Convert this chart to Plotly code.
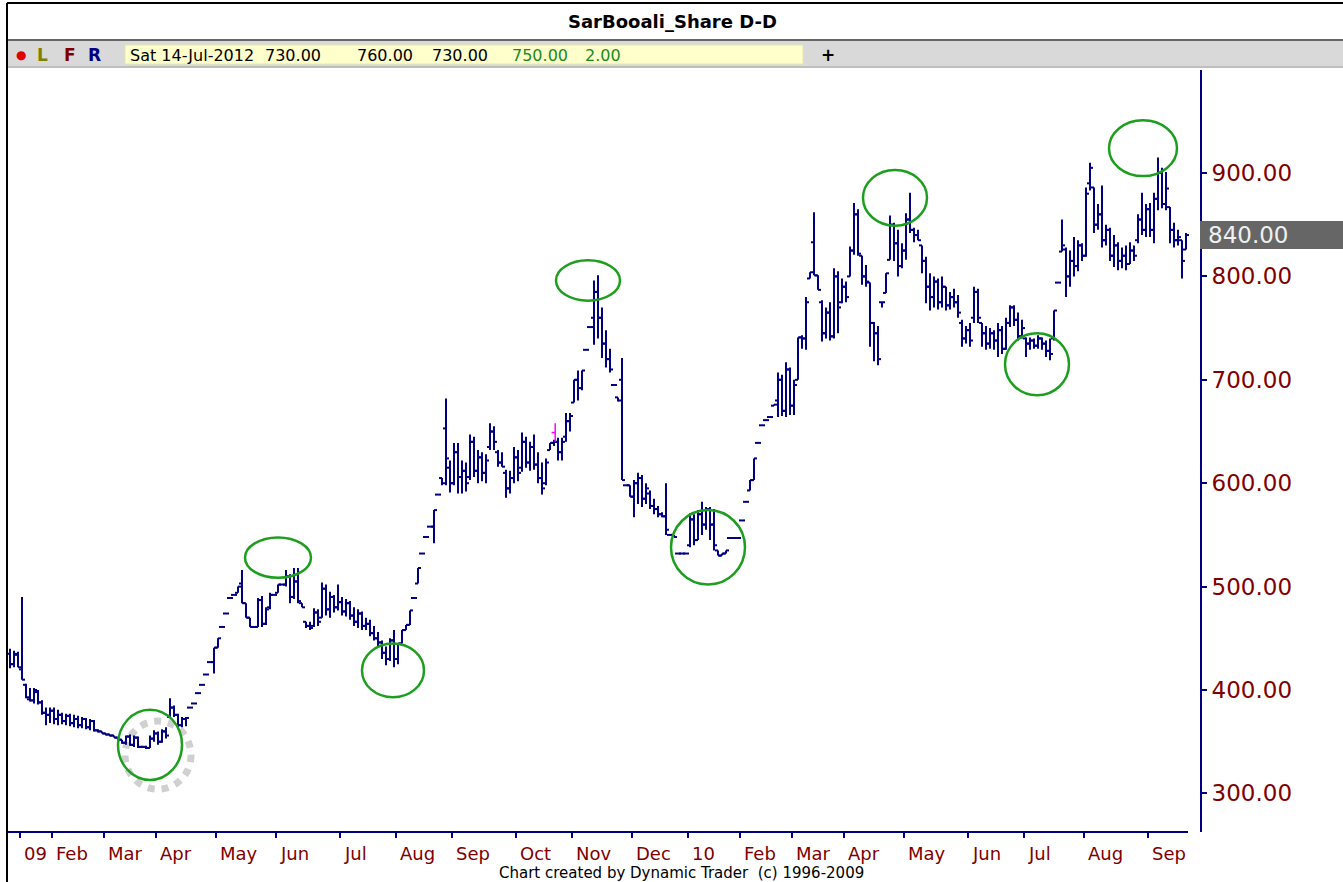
import plotly.graph_objects as go

# ---------------- data (daily bars) ----------------
open_ = [
    435, 425, 434, 420, 405, 391, 390, 398, 388, 378,
    376, 380, 372, 376, 370, 375, 368, 372, 366, 372,
    364, 370, 361, 360, 358, 357, 356, 354, 352, 349,
    355, 347, 354, 345, 345, 344, 353, 358, 350, 360,
    374, 383, 376, 366, 372, 383, 387, 397, 405, 415,
    427, 427, 441, 461, 474, 489, 492, 494, 503, 484,
    470, 461, 461, 487, 464, 480, 492, 494, 502, 502,
    510, 490, 505, 484, 466, 462, 462, 475, 470, 498,
    478, 490, 480, 485, 476, 484, 472, 466, 474, 462,
    464, 455, 450, 446, 436, 430, 448, 430, 445, 458,
    463, 489, 503, 532, 548, 558, 558, 589, 605, 653,
    615, 600, 630, 606, 612, 606, 640, 612, 625, 610,
    635, 650, 630, 620, 610, 595, 605, 625, 615, 640,
    620, 635, 618, 605, 600, 632, 639, 640, 630, 645,
    660, 678, 700, 692, 729, 751, 760, 785, 760, 735,
    720, 695, 683, 700, 598, 598, 587, 600, 605, 585,
    590, 578, 575, 570, 568, 550, 550, 532, 532, 532,
    540, 565, 545, 570, 560, 575, 560, 535, 530, 532,
    547, 547, 547, 564, 582, 593, 603, 639, 656, 661,
    664, 675, 680, 700, 670, 710, 675, 700, 741, 740,
    798, 833, 801, 775, 745, 765, 742, 800, 775, 790,
    800, 825, 860, 820, 800, 794, 755, 745, 775, 784,
    816, 850, 832, 810, 825, 855, 845, 840, 830, 815,
    790, 780, 795, 775, 790, 772, 780, 775, 755, 740,
    748, 760, 785, 755, 745, 735, 745, 738, 748, 730,
    755, 770, 758, 742, 740, 735, 738, 733, 740, 735,
    728, 740, 794, 824, 826, 800, 815, 810, 830, 820,
    890, 886, 850, 860, 835, 845, 820, 830, 815, 820,
    812, 825, 835, 855, 845, 865, 845, 875, 900, 870,
    867, 845, 835, 835, 826,
]
high = [
    440, 438, 437, 490, 406, 402, 402, 400, 390, 383,
    383, 383, 381, 378, 377, 377, 376, 375, 374, 373,
    372, 371, 362, 360, 358, 357, 356, 354, 352, 356,
    357, 356, 355, 346, 346, 356, 361, 360, 362, 364,
    392, 385, 377, 374, 374, 383, 387, 397, 405, 415,
    427, 441, 450, 461, 474, 489, 492, 500, 516, 484,
    470, 461, 489, 491, 480, 494, 492, 502, 502, 516,
    512, 518, 518, 484, 466, 466, 479, 478, 504, 502,
    495, 492, 502, 490, 488, 486, 480, 478, 476, 470,
    468, 462, 456, 448, 442, 450, 458, 445, 458, 463,
    477, 489, 518, 532, 548, 558, 574, 589, 605, 682,
    622, 639, 639, 622, 620, 647, 645, 632, 630, 628,
    658, 655, 632, 630, 613, 612, 635, 632, 649, 645,
    640, 647, 630, 620, 624, 639, 642, 644, 644, 668,
    668, 700, 709, 709, 729, 751, 796, 801, 770, 748,
    730, 695, 683, 721, 598, 598, 603, 610, 608, 600,
    593, 585, 578, 572, 600, 550, 550, 532, 532, 532,
    571, 570, 574, 582, 577, 577, 575, 535, 532, 535,
    547, 547, 547, 564, 582, 603, 624, 639, 656, 661,
    664, 676, 707, 705, 717, 712, 700, 741, 743, 780,
    804, 862, 801, 777, 770, 775, 808, 805, 798, 795,
    829, 871, 865, 820, 811, 794, 756, 752, 775, 803,
    859, 852, 845, 832, 861, 881, 847, 845, 830, 819,
    803, 800, 798, 800, 790, 785, 788, 782, 758, 752,
    755, 790, 788, 755, 752, 750, 748, 755, 752, 760,
    772, 772, 765, 758, 741, 741, 740, 743, 741, 738,
    740, 767, 794, 855, 828, 825, 838, 835, 832, 886,
    910, 886, 870, 888, 850, 847, 840, 833, 828, 830,
    833, 830, 860, 881, 870, 871, 881, 915, 905, 901,
    867, 852, 845, 835, 842,
]
low = [
    421, 422, 422, 410, 392, 389, 387, 386, 376, 366,
    368, 367, 366, 367, 366, 365, 364, 363, 363, 362,
    361, 360, 359, 358, 356, 355, 354, 352, 348, 347,
    346, 345, 344, 344, 343, 344, 350, 347, 349, 353,
    373, 374, 362, 364, 365, 383, 387, 397, 405, 415,
    427, 416, 441, 461, 474, 489, 492, 494, 484, 470,
    461, 461, 461, 461, 463, 478, 492, 494, 502, 500,
    484, 488, 484, 480, 460, 458, 461, 462, 470, 472,
    470, 475, 477, 472, 471, 468, 462, 460, 458, 458,
    452, 448, 442, 430, 424, 428, 422, 425, 445, 458,
    463, 489, 503, 532, 548, 558, 542, 589, 598, 598,
    591, 598, 590, 590, 592, 603, 606, 600, 602, 600,
    632, 632, 616, 616, 586, 590, 600, 602, 611, 615,
    612, 613, 600, 589, 598, 632, 636, 622, 622, 640,
    650, 678, 680, 690, 729, 751, 734, 740, 721, 712,
    707, 695, 679, 603, 598, 587, 567, 580, 577, 580,
    575, 570, 567, 567, 550, 550, 548, 532, 532, 532,
    538, 540, 545, 550, 555, 545, 535, 530, 530, 532,
    547, 547, 547, 564, 582, 593, 603, 639, 656, 661,
    664, 675, 664, 665, 664, 666, 666, 700, 730, 729,
    798, 801, 787, 737, 740, 738, 740, 745, 774, 775,
    800, 821, 820, 792, 790, 732, 718, 714, 770, 784,
    816, 815, 800, 808, 816, 842, 833, 835, 803, 774,
    767, 770, 768, 770, 767, 768, 770, 760, 732, 735,
    732, 755, 755, 732, 729, 730, 729, 722, 725, 729,
    751, 752, 738, 740, 722, 729, 730, 730, 729, 722,
    719, 738, 794, 824, 780, 790, 800, 805, 815, 819,
    883, 842, 845, 828, 830, 815, 809, 806, 808, 806,
    812, 815, 832, 840, 838, 838, 832, 864, 866, 864,
    832, 828, 830, 798, 826,
]
close = [
    425, 435, 422, 410, 393, 390, 400, 388, 378, 376,
    380, 372, 376, 370, 375, 368, 372, 366, 372, 364,
    370, 361, 360, 358, 357, 356, 354, 352, 349, 355,
    347, 354, 345, 345, 344, 353, 358, 350, 360, 356,
    383, 376, 366, 372, 373, 383, 387, 397, 405, 415,
    427, 441, 450, 461, 474, 489, 492, 500, 484, 470,
    461, 461, 487, 464, 478, 492, 492, 502, 502, 510,
    490, 505, 486, 480, 462, 460, 475, 466, 498, 478,
    490, 480, 485, 476, 484, 472, 466, 474, 462, 464,
    455, 450, 446, 436, 430, 448, 430, 445, 458, 463,
    477, 489, 518, 532, 548, 558, 574, 589, 600, 624,
    600, 630, 606, 612, 600, 640, 612, 625, 610, 622,
    650, 640, 620, 616, 595, 605, 625, 610, 640, 620,
    635, 618, 605, 595, 620, 639, 640, 630, 640, 660,
    665, 700, 692, 709, 729, 751, 785, 760, 735, 720,
    710, 695, 680, 603, 598, 587, 600, 605, 585, 595,
    578, 575, 570, 568, 555, 550, 548, 532, 532, 532,
    565, 545, 570, 560, 575, 560, 540, 530, 532, 535,
    547, 547, 547, 564, 582, 603, 624, 639, 656, 661,
    664, 676, 700, 670, 710, 675, 695, 741, 740, 775,
    804, 801, 787, 745, 765, 742, 800, 770, 790, 780,
    825, 860, 822, 800, 795, 755, 745, 720, 775, 803,
    850, 832, 810, 825, 855, 845, 840, 835, 815, 790,
    780, 795, 775, 790, 772, 780, 775, 765, 740, 748,
    738, 785, 760, 745, 735, 745, 738, 748, 730, 755,
    770, 758, 742, 750, 735, 738, 733, 740, 735, 728,
    725, 767, 794, 830, 800, 815, 810, 830, 820, 880,
    905, 850, 860, 835, 845, 820, 830, 815, 820, 812,
    825, 820, 855, 845, 865, 845, 875, 900, 870, 885,
    845, 835, 838, 815, 840,
]
bars = list(range(len(close)))

# first bar of each month and its label
month_start_bar = [3, 11, 24, 37, 52, 67, 83, 97, 111, 127, 141, 156, 170,
                   183, 196, 209, 224, 240, 254, 269, 285]
month_labels = ["09", "Feb", "Mar", "Apr", "May", "Jun", "Jul", "Aug", "Sep",
                "Oct", "Nov", "Dec", "10", "Feb", "Mar", "Apr", "May", "Jun",
                "Jul", "Aug", "Sep"]

price_ticks = [300, 400, 500, 600, 700, 800, 900]

# hand-drawn turning-point circles: (centre bar, centre price, half-width in bars, half-height in price)
circles = [
    (35.0, 347, 8.0, 34), (67.0, 528, 8.25, 19.5), (95.75, 419, 7.75, 26),
    (144.5, 796, 8.0, 19.5), (174.5, 538, 9.25, 36), (221.25, 876, 8.0, 27),
    (256.75, 715, 8.0, 30), (283.25, 924, 8.5, 27),
]
shadow_circle = (37.0, 337, 8.25, 33)
pivot_marker = dict(bar=136.3, top=658, bottom=640)

header_values = ["Sat 14-Jul-2012", "730.00", "760.00", "730.00", "750.00", "2.00"]

# ---------------- figure geometry ----------------
W, H = 1343, 882
ML, MR, MT, MB = 8, 143, 70, 50
PW, PH = W - ML - MR, H - MT - MB
NAVY = "#000080"
MAROON = "#800000"
GREEN = "#1e9e1e"
FONT = "DejaVu Sans"
TICK = 0.75  # open/close tick length in bar units


def pxx(px):
    return (px - ML) / PW


def pxy(py):
    return (H - MB - py) / PH


# OHLC bars drawn as line segments (high-low stem, open tick left, close tick right)
bx, by = [], []
for i, o, h, l, c in zip(bars, open_, high, low, close):
    bx += [i, i, None, i - TICK, i, None, i, i + TICK, None]
    by += [l, h, None, o, o, None, c, c, None]

fig = go.Figure()
fig.add_trace(go.Scatter(x=bx, y=by, mode="lines", line=dict(color=NAVY, width=2),
                         hoverinfo="skip", showlegend=False))

# magenta pivot marker
pm = pivot_marker
mid = (pm["top"] + pm["bottom"]) / 2
fig.add_trace(go.Scatter(
    x=[pm["bar"], pm["bar"], None, pm["bar"] - 0.9, pm["bar"]],
    y=[pm["top"], pm["bottom"], None, mid, mid],
    mode="lines", line=dict(color="#ff00ff", width=1.5), hoverinfo="skip", showlegend=False,
))

shapes = []
cx, cy, rx, ry = shadow_circle
shapes.append(dict(type="circle", xref="x", yref="y", x0=cx - rx, x1=cx + rx, y0=cy - ry, y1=cy + ry,
                   line=dict(color="#d0d0d0", width=7, dash="dot"), layer="below"))
for cx, cy, rx, ry in circles:
    shapes.append(dict(type="circle", xref="x", yref="y", x0=cx - rx, x1=cx + rx, y0=cy - ry, y1=cy + ry,
                       line=dict(color=GREEN, width=2.5)))

# x axis line (stops short of the price axis)
shapes.append(dict(type="line", xref="x", yref="paper", x0=-0.5, x1=len(bars) - 0.5, y0=0, y1=0,
                   line=dict(color=NAVY, width=2)))
# frame, title separator, toolbar
shapes.append(dict(type="line", xref="paper", yref="paper", x0=pxx(7), x1=pxx(7), y0=pxy(3), y1=pxy(882),
                   line=dict(color="#000000", width=2)))
shapes.append(dict(type="line", xref="paper", yref="paper", x0=pxx(7), x1=pxx(1343), y0=pxy(3), y1=pxy(3),
                   line=dict(color="#000000", width=2)))
shapes.append(dict(type="rect", xref="paper", yref="paper", x0=pxx(8), x1=pxx(1343), y0=pxy(66), y1=pxy(41),
                   fillcolor="#d9d9d9", line=dict(width=0), layer="below"))
shapes.append(dict(type="line", xref="paper", yref="paper", x0=pxx(8), x1=pxx(1343), y0=pxy(40), y1=pxy(40),
                   line=dict(color="#333333", width=1.5)))
shapes.append(dict(type="line", xref="paper", yref="paper", x0=pxx(8), x1=pxx(1343), y0=pxy(67), y1=pxy(67),
                   line=dict(color="#a8a8a8", width=1.5)))
shapes.append(dict(type="rect", xref="paper", yref="paper", x0=pxx(125), x1=pxx(803), y0=pxy(64), y1=pxy(45),
                   fillcolor="#ffffcc", line=dict(color="#e6e6b0", width=1)))
# last price box
last = close[-1]
shapes.append(dict(type="rect", xref="paper", yref="y", x0=1.0, x1=pxx(1343), y0=last - 13.5, y1=last + 13.5,
                   fillcolor="#666666", line=dict(width=0)))

ann = []
for b, lab in zip(month_start_bar, month_labels):
    ann.append(dict(x=b - 0.5, y=0, xref="x", yref="paper", text=lab, showarrow=False,
                    xanchor="left", yanchor="middle", xshift=2, yshift=-21,
                    font=dict(family=FONT, size=18, color=MAROON)))
ann.append(dict(x=1.0, y=last, xref="paper", yref="y", text=f"{last:.2f}", showarrow=False,
                xanchor="left", yanchor="middle", xshift=6,
                font=dict(family=FONT, size=23, color="#f0f0f0")))
ann.append(dict(x=pxx(672), y=pxy(22), xref="paper", yref="paper", text="<b>SarBooali_Share D-D</b>",
                showarrow=False, xanchor="center", yanchor="middle",
                font=dict(family=FONT, size=18, color="#000000")))
ann.append(dict(x=pxx(681), y=pxy(873), xref="paper", yref="paper",
                text="Chart created by Dynamic Trader  (c) 1996-2009",
                showarrow=False, xanchor="center", yanchor="middle",
                font=dict(family=FONT, size=15, color="#000000")))
# toolbar symbols
for px, txt, col in [(21, "●", "#e00000"), (42, "<b>L</b>", "#808000"), (70, "<b>F</b>", "#800000"),
                     (94, "<b>R</b>", "#000080"), (828, "<b>+</b>", "#000000")]:
    ann.append(dict(x=pxx(px), y=pxy(55), xref="paper", yref="paper", text=txt, showarrow=False,
                    xanchor="center", yanchor="middle",
                    font=dict(family=FONT, size=17 if txt != "●" else 12, color=col)))
header_x = [128, 263, 355, 430, 510, 583]
header_col = ["#000000", "#000000", "#000000", "#000000", "#1a8a1a", "#1a8a1a"]
for px, txt, col in zip(header_x, header_values, header_col):
    ann.append(dict(x=pxx(px), y=pxy(55), xref="paper", yref="paper", text=txt, showarrow=False,
                    xanchor="left", yanchor="middle",
                    font=dict(family=FONT, size=16, color=col)))

fig.update_layout(
    width=W, height=H, margin=dict(l=ML, r=MR, t=MT, b=MB),
    paper_bgcolor="white", plot_bgcolor="white",
    shapes=shapes, annotations=ann, showlegend=False,
    xaxis=dict(range=[-0.5, (1200 - 10) / 4], showgrid=False, zeroline=False, showline=False,
               tickvals=[b - 0.5 for b in month_start_bar],
               showticklabels=False, ticks="outside", ticklen=5, tickwidth=1.5, tickcolor=NAVY,
               fixedrange=True),
    yaxis=dict(range=[262.7, 999.6], side="right", showgrid=False, zeroline=False,
               showline=True, linecolor=NAVY, linewidth=2,
               tickvals=price_ticks, ticktext=[f"{v:.2f}" for v in price_ticks],
               ticks="outside", ticklen=5, tickwidth=1.5, tickcolor=NAVY,
               tickfont=dict(family=FONT, size=23, color=MAROON), fixedrange=True),
)

fig.write_html("out.html", config={"displayModeBar": False},
               post_script="document.body.style.margin='0px';document.body.style.overflow='hidden';")
